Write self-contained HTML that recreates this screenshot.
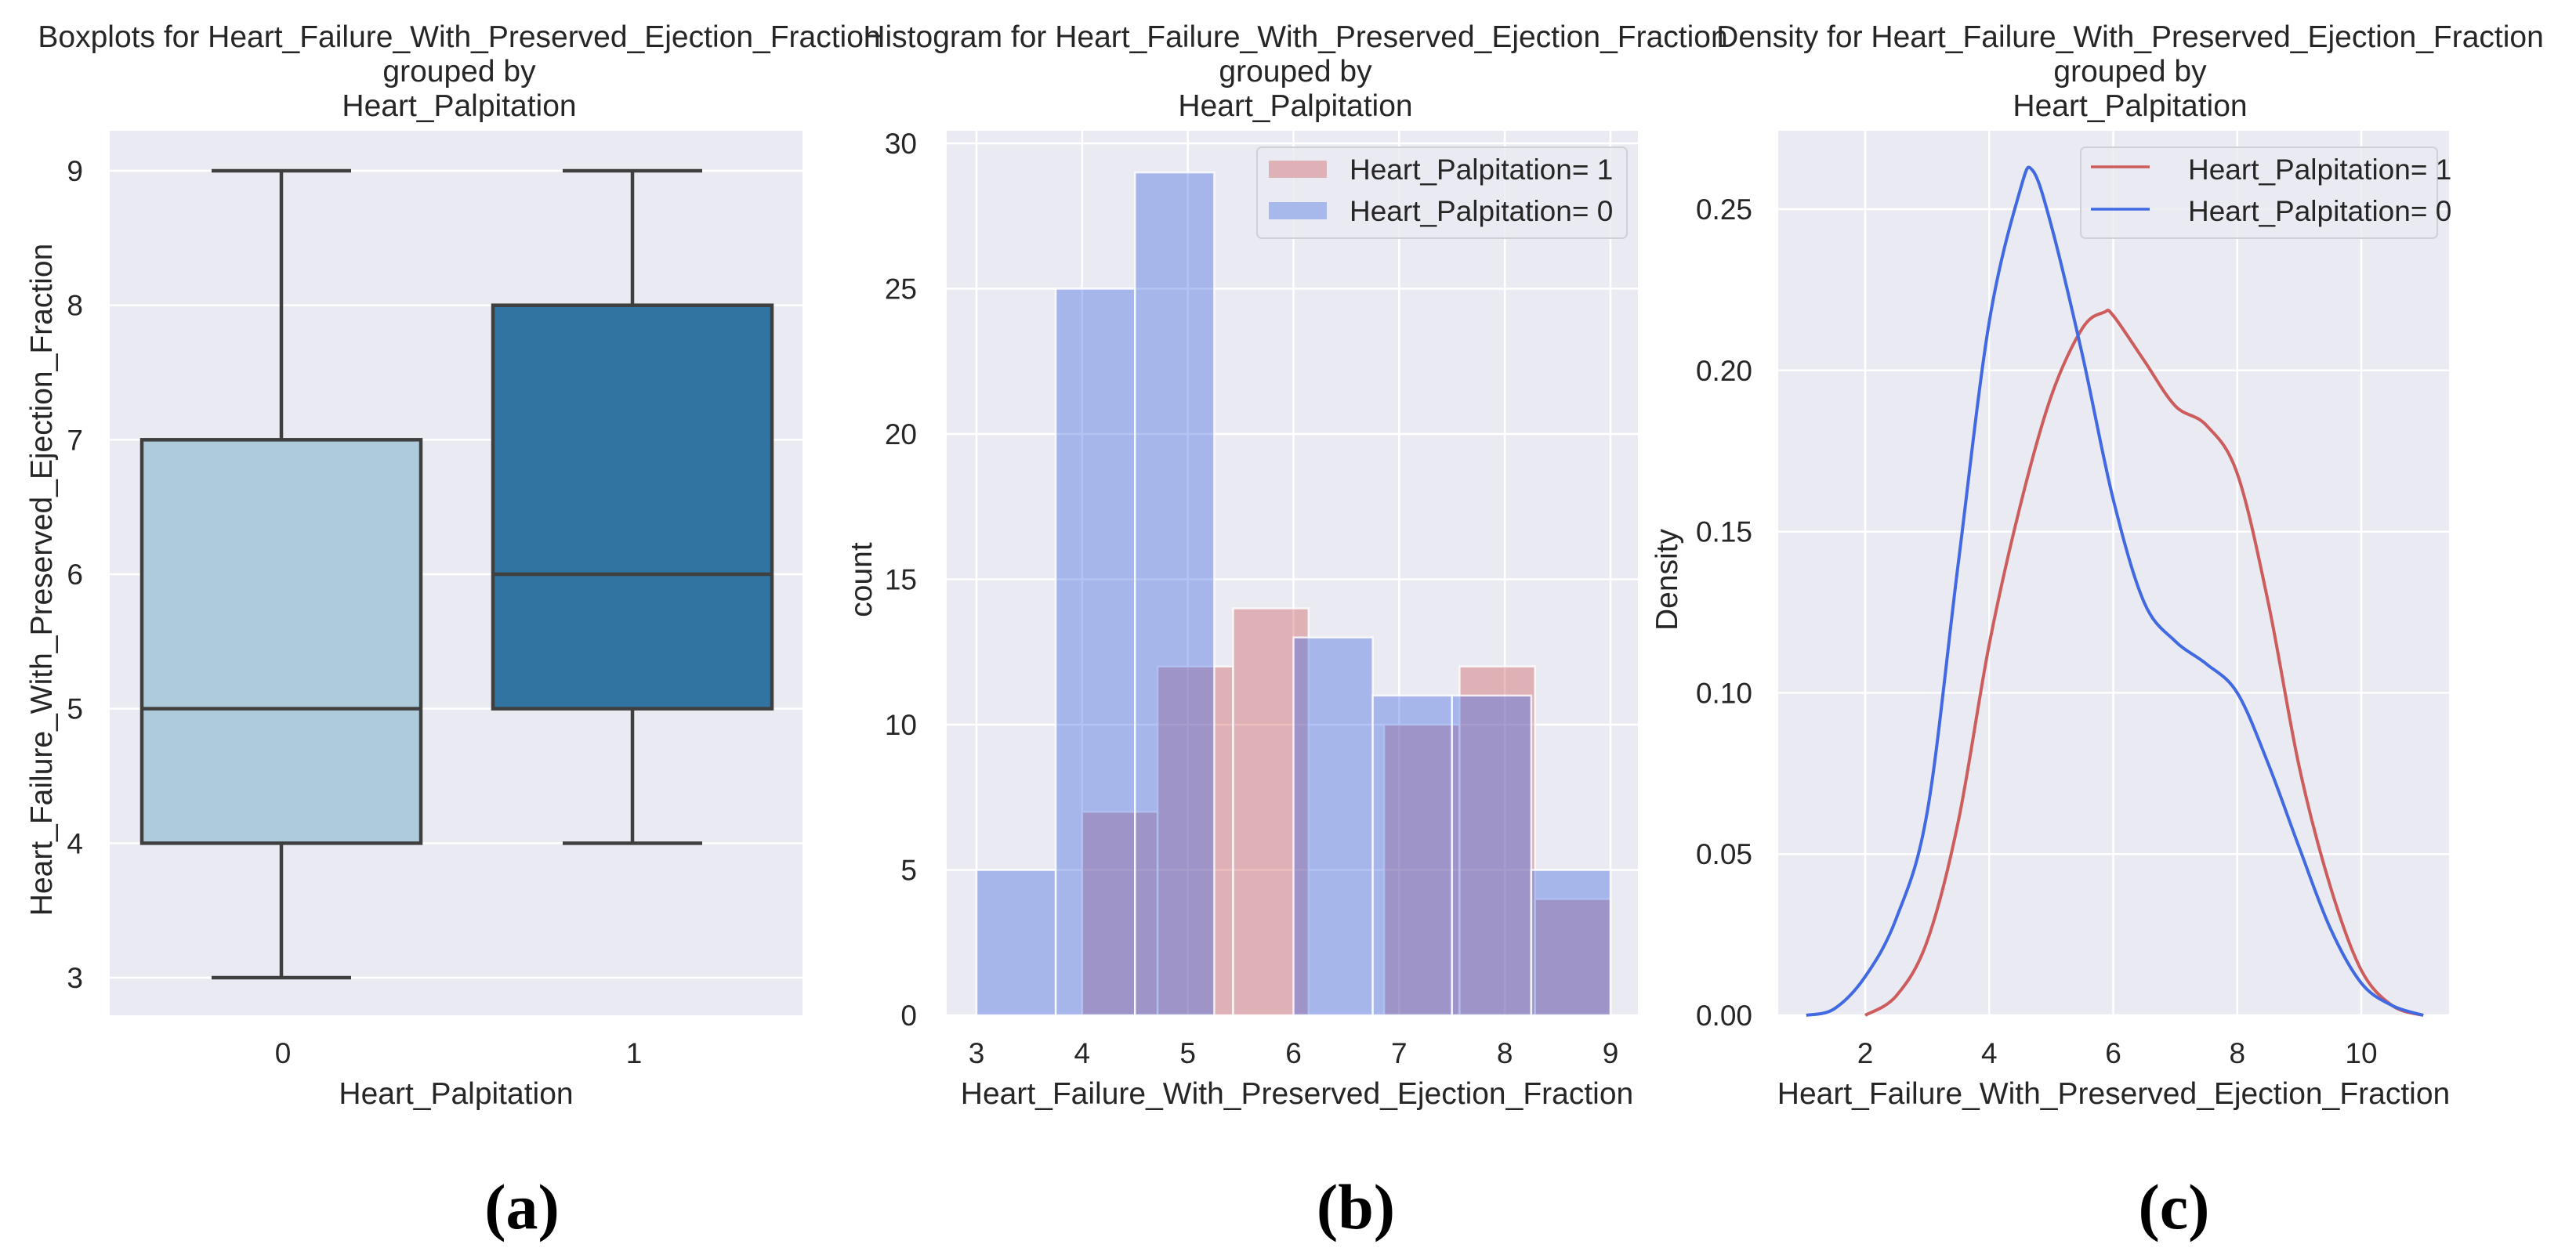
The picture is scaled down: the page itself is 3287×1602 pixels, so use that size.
<!DOCTYPE html>
<html><head><meta charset="utf-8">
<style>
html,body{margin:0;padding:0;background:#fff;}
svg{display:block;}
text{font-family:"Liberation Sans",Arial,sans-serif;fill:#262626;}
.cap{font-family:"Liberation Serif",serif;font-weight:bold;fill:#000;}
</style></head>
<body>
<svg id="fig" width="3287" height="1602" viewBox="0 0 3287 1602" xmlns="http://www.w3.org/2000/svg">
<g id="pa"></g>
<g id="pb"></g>
<g id="pc"></g>
</svg>
<script>
// ---- Panel (a) data: boxplots ----
const boxCategories = ["0", "1"];
const boxMin = [3, 4];
const boxQ1 = [4, 5];
const boxMedian = [5, 6];
const boxQ3 = [7, 8];
const boxMax = [9, 9];
const boxYTicks = [3, 4, 5, 6, 7, 8, 9];

// ---- Panel (b) data: histogram ----
const histBlueEdgesStart = 3, histBlueEdgesEnd = 9;
const histBlueCounts = [5, 25, 29, 0, 13, 11, 11, 5];
const histRedEdgesStart = 4, histRedEdgesEnd = 9;
const histRedCounts = [7, 12, 14, 0, 10, 12, 4];
const histXTicks = [3, 4, 5, 6, 7, 8, 9];
const histYTicks = [0, 5, 10, 15, 20, 25, 30];

// ---- Panel (c) data: density ----
const densBlueX = [1.05, 1.5, 2.0, 2.5, 3.0, 3.5, 4.0, 4.5, 4.7, 5.0, 5.5, 6.0, 6.5, 7.0, 7.5, 8.0, 8.5, 9.0, 9.5, 10.0, 10.5, 11.0];
const densBlueY = [0, 0.002, 0.012, 0.03, 0.063, 0.14, 0.215, 0.256, 0.262, 0.245, 0.205, 0.16, 0.128, 0.116, 0.109, 0.1, 0.078, 0.052, 0.027, 0.01, 0.003, 0];
const densRedX = [2.0, 2.5, 3.0, 3.5, 4.0, 4.5, 5.0, 5.5, 5.85, 6.0, 6.5, 7.0, 7.5, 8.0, 8.5, 9.0, 9.5, 10.0, 10.5, 11.0];
const densRedY = [0, 0.006, 0.023, 0.06, 0.115, 0.158, 0.192, 0.213, 0.218, 0.217, 0.203, 0.189, 0.183, 0.168, 0.128, 0.077, 0.04, 0.014, 0.003, 0];
const densXTicks = [2, 4, 6, 8, 10];
const densYTicks = [0, 0.05, 0.10, 0.15, 0.20, 0.25];

const NS = "http://www.w3.org/2000/svg";
function el(parent, tag, attrs, txt) {
  const e = document.createElementNS(NS, tag);
  for (const k in attrs) e.setAttribute(k, attrs[k]);
  if (txt !== undefined) e.textContent = txt;
  parent.appendChild(e);
  return e;
}
const BG = "#eaeaf2";
const TOP = 167, BOT = 1296;
const TF = 39, KF = 37;

function titleBlock(g, cx, first) {
  const t = el(g, "text", {x: cx, y: 60, "font-size": TF, "text-anchor": "middle"});
  t.textContent = first;
  
  
  const t2 = el(g, "text", {x: cx, y: 104, "font-size": TF, "text-anchor": "middle"}, "grouped by");
  
  
  const t3 = el(g, "text", {x: cx, y: 148, "font-size": TF, "text-anchor": "middle"}, "Heart_Palpitation");
  
  
}
function caption(g, cx, s) {
  const c = el(g, "text", {x: cx, y: 1568, "font-size": 82, "text-anchor": "middle", class: "cap"}, s);
  
  
}
function ylabel(g, x, s) {
  const t = el(g, "text", {x: x, y: 740, "font-size": TF, "text-anchor": "middle", transform: "rotate(-90 " + x + " 740)"}, s);
  
  
}
function xlabel(g, x, s) {
  const t = el(g, "text", {x: x, y: 1409, "font-size": TF, "text-anchor": "middle"}, s);
  
  
}

// ===== Panel A =====
(function(){
  const g = document.getElementById("pa");
  const L = 140, R = 1024;
  const yS = v => 218 + (9 - v) * (1248 - 218) / 6;
  const xS = i => 359 + i * (807 - 359);
  const bg = el(g, "rect", {x: L, y: TOP, width: R - L, height: BOT - TOP, fill: BG});
  
  
  boxYTicks.forEach(v => {
    const l = el(g, "line", {x1: L, x2: R, y1: yS(v), y2: yS(v), stroke: "#fff", "stroke-width": 2.5});
    
    
    const t = el(g, "text", {x: 106, y: yS(v) + 13, "font-size": KF, "text-anchor": "end"}, v);
    
    
  });
  const cols = ["#aecbdc", "#3274a1"];
  boxCategories.forEach((c, i) => {
    const cx = xS(i), hw = 178, cw = 89;
    const bx = el(g, "g", {});
    
    
    const st = {stroke: "#3f3f3f", "stroke-width": 4.5, fill: "none"};
    el(bx, "line", Object.assign({x1: cx, x2: cx, y1: yS(boxMax[i]), y2: yS(boxQ3[i])}, st));
    el(bx, "line", Object.assign({x1: cx, x2: cx, y1: yS(boxQ1[i]), y2: yS(boxMin[i])}, st));
    el(bx, "line", Object.assign({x1: cx - cw, x2: cx + cw, y1: yS(boxMax[i]), y2: yS(boxMax[i])}, st));
    el(bx, "line", Object.assign({x1: cx - cw, x2: cx + cw, y1: yS(boxMin[i]), y2: yS(boxMin[i])}, st));
    el(bx, "rect", {x: cx - hw, y: yS(boxQ3[i]), width: 2 * hw, height: yS(boxQ1[i]) - yS(boxQ3[i]), fill: cols[i], stroke: "#3f3f3f", "stroke-width": 4.5});
    el(bx, "line", Object.assign({x1: cx - hw, x2: cx + hw, y1: yS(boxMedian[i]), y2: yS(boxMedian[i])}, st));
    const t = el(g, "text", {x: cx + 2, y: 1357, "font-size": KF, "text-anchor": "middle"}, c);
    
    
  });
  titleBlock(g, 586, "Boxplots for Heart_Failure_With_Preserved_Ejection_Fraction");
  ylabel(g, 66, "Heart_Failure_With_Preserved_Ejection_Fraction");
  xlabel(g, 582, "Heart_Palpitation");
  caption(g, 666, "(a)");
})();

// ===== Panel B =====
(function(){
  const g = document.getElementById("pb");
  const L = 1208, R = 2090;
  const xS = v => 1246 + (v - 3) * (2055 - 1246) / 6;
  const yS = v => 1296 - v * (1296 - 183) / 30;
  const bg = el(g, "rect", {x: L, y: TOP, width: R - L, height: BOT - TOP, fill: BG});
  
  
  histYTicks.forEach(v => {
    const l = el(g, "line", {x1: L, x2: R, y1: yS(v), y2: yS(v), stroke: "#fff", "stroke-width": 2.5});
    
    
    const t = el(g, "text", {x: 1170, y: yS(v) + 13, "font-size": KF, "text-anchor": "end"}, v);
    
    
  });
  histXTicks.forEach(v => {
    const l = el(g, "line", {x1: xS(v), x2: xS(v), y1: TOP, y2: BOT, stroke: "#fff", "stroke-width": 2.5});
    
    
    const t = el(g, "text", {x: xS(v), y: 1357, "font-size": KF, "text-anchor": "middle"}, v);
    
    
  });
  function bars(counts, s, e, color, name) {
    const w = (e - s) / counts.length;
    counts.forEach((c, i) => {
      if (c <= 0) return;
      const x0 = xS(s + i * w), x1 = xS(s + (i + 1) * w);
      const r = el(g, "rect", {x: x0, y: yS(c), width: x1 - x0, height: yS(0) - yS(c), fill: color, "fill-opacity": 0.4, stroke: "#fff", "stroke-opacity": 0.8, "stroke-width": 2.5});
      
      
    });
  }
  bars(histRedCounts, histRedEdgesStart, histRedEdgesEnd, "#cd5c5c", 'hist-bar-palpitation-1');
  bars(histBlueCounts, histBlueEdgesStart, histBlueEdgesEnd, "#4169e1", 'hist-bar-palpitation-0');
  const lg = el(g, "g", {});
  
  
  el(lg, "rect", {x: 1604, y: 188, width: 472, height: 116, rx: 6, fill: BG, "fill-opacity": 0.8, stroke: "#d0d0d8", "stroke-width": 2});
  const e1 = el(lg, "rect", {x: 1619, y: 205, width: 74, height: 22, fill: "#deb1b6"});
  
  
  const e2 = el(lg, "rect", {x: 1619, y: 258, width: 74, height: 22, fill: "#a7b8eb"});
  
  
  const l1 = el(lg, "text", {x: 1722, y: 229, "font-size": KF}, "Heart_Palpitation= 1");
  
  
  const l2 = el(lg, "text", {x: 1722, y: 282, "font-size": KF}, "Heart_Palpitation= 0");
  
  
  titleBlock(g, 1653, "Histogram for Heart_Failure_With_Preserved_Ejection_Fraction");
  ylabel(g, 1112, "count");
  xlabel(g, 1655, "Heart_Failure_With_Preserved_Ejection_Fraction");
  caption(g, 1730, "(b)");
})();

// ===== Panel C =====
(function(){
  const g = document.getElementById("pc");
  const L = 2269, R = 3125;
  const xS = v => 2380 + (v - 2) * (3013 - 2380) / 8;
  const yS = v => 1296 - v * (1296 - 267) / 0.25;
  const bg = el(g, "rect", {x: L, y: TOP, width: R - L, height: BOT - TOP, fill: BG});
  
  
  densYTicks.forEach(v => {
    const l = el(g, "line", {x1: L, x2: R, y1: yS(v), y2: yS(v), stroke: "#fff", "stroke-width": 2.5});
    
    
    const t = el(g, "text", {x: 2236, y: yS(v) + 13, "font-size": KF, "text-anchor": "end"}, v.toFixed(2));
    
    
  });
  densXTicks.forEach(v => {
    const l = el(g, "line", {x1: xS(v), x2: xS(v), y1: TOP, y2: BOT, stroke: "#fff", "stroke-width": 2.5});
    
    
    const t = el(g, "text", {x: xS(v), y: 1357, "font-size": KF, "text-anchor": "middle"}, v);
    
    
  });
  function smooth(xs, ys) {
    const p = xs.map((x, i) => [xS(x), yS(ys[i])]);
    let d = "M" + p[0][0] + "," + p[0][1];
    for (let i = 0; i < p.length - 1; i++) {
      const p0 = p[Math.max(0, i - 1)], p1 = p[i], p2 = p[i + 1], p3 = p[Math.min(p.length - 1, i + 2)];
      const c1x = p1[0] + (p2[0] - p0[0]) / 6, c1y = p1[1] + (p2[1] - p0[1]) / 6;
      const c2x = p2[0] - (p3[0] - p1[0]) / 6, c2y = p2[1] - (p3[1] - p1[1]) / 6;
      d += " C" + c1x + "," + c1y + " " + c2x + "," + c2y + " " + p2[0] + "," + p2[1];
    }
    return d;
  }
  const rl = el(g, "path", {d: smooth(densRedX, densRedY), fill: "none", stroke: "#cd5c5c", "stroke-width": 4});
  
  
  const bl = el(g, "path", {d: smooth(densBlueX, densBlueY), fill: "none", stroke: "#4169e1", "stroke-width": 4});
  
  
  const lg = el(g, "g", {});
  
  
  el(lg, "rect", {x: 2655, y: 188, width: 455, height: 116, rx: 6, fill: BG, "fill-opacity": 0.8, stroke: "#d0d0d8", "stroke-width": 2});
  const s1 = el(lg, "line", {x1: 2668, x2: 2743, y1: 213, y2: 213, stroke: "#cd5c5c", "stroke-width": 3.5});
  
  
  const s2 = el(lg, "line", {x1: 2668, x2: 2743, y1: 267, y2: 267, stroke: "#4169e1", "stroke-width": 3.5});
  
  
  const l1 = el(lg, "text", {x: 2792, y: 229, "font-size": KF}, "Heart_Palpitation= 1");
  
  
  const l2 = el(lg, "text", {x: 2792, y: 282, "font-size": KF}, "Heart_Palpitation= 0");
  
  
  titleBlock(g, 2718, "Density for Heart_Failure_With_Preserved_Ejection_Fraction");
  ylabel(g, 2140, "Density");
  xlabel(g, 2697, "Heart_Failure_With_Preserved_Ejection_Fraction");
  caption(g, 2774, "(c)");
})();
</script>
</body></html>
